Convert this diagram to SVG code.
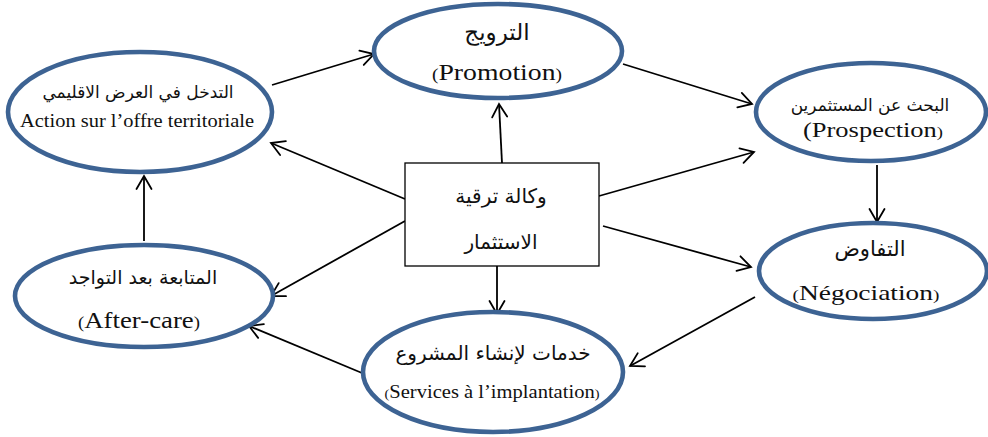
<svg xmlns="http://www.w3.org/2000/svg" width="988" height="437" viewBox="0 0 988 437">
  <defs>
    <marker id="arrow" markerUnits="userSpaceOnUse" markerWidth="18" markerHeight="18" viewBox="0 0 18 18" refX="16" refY="9" orient="auto">
      <path d="M3,1.5 L16,9 L3,16.5" fill="none" stroke="#000" stroke-width="1.8" stroke-linecap="round" stroke-linejoin="miter"/>
    </marker>
    <style>
      .node ellipse { fill: #fff; stroke: #3d6393; stroke-width: 4.6; }
      .box rect { fill: #fff; stroke: #000; stroke-width: 1.3; }
      .ar { font-family: "DejaVu Sans", "Noto Sans", sans-serif; fill: #111; text-anchor: middle; direction: rtl; }
      .la { font-family: "Liberation Serif", "Times New Roman", serif; fill: #111; text-anchor: middle; }
      .p { font-size: 0.7em; }
      #connectors line { stroke: #000; stroke-width: 1.8; fill: none; marker-end: url(#arrow); }
    </style>
  </defs>
  <rect width="988" height="437" fill="#fff"/>

  <!-- connectors -->
  <g id="connectors">
    <line x1="272" y1="85" x2="374" y2="54"/>
    <line x1="623" y1="64" x2="752" y2="104"/>
    <line x1="877" y1="165" x2="877" y2="222"/>
    <line x1="755" y1="297" x2="630" y2="366"/>
    <line x1="362" y1="373" x2="249" y2="326"/>
    <line x1="144" y1="241" x2="144" y2="176"/>
    <line x1="502" y1="163" x2="499" y2="104"/>
    <line x1="405" y1="199" x2="271" y2="143"/>
    <line x1="405" y1="221" x2="271" y2="296"/>
    <line x1="497" y1="266" x2="497" y2="314"/>
    <line x1="599" y1="196" x2="754" y2="152"/>
    <line x1="603" y1="226" x2="751" y2="267"/>
  </g>

  <!-- nodes -->
  <g id="action" class="node">
    <ellipse cx="140" cy="112" rx="132" ry="60"/>
    <text class="ar" x="138" y="98" font-size="17">التدخل في العرض الاقليمي</text>
    <text class="la" x="137" y="127" font-size="19" textLength="234" lengthAdjust="spacingAndGlyphs">Action sur l’offre territoriale</text>
  </g>

  <g id="promotion" class="node">
    <ellipse cx="498" cy="51" rx="124" ry="47"/>
    <text class="ar" x="497" y="40" font-size="23">الترويج</text>
    <text class="la" x="497" y="80" font-size="23" textLength="130" lengthAdjust="spacingAndGlyphs"><tspan class="p">(</tspan>Promotion<tspan class="p">)</tspan></text>
  </g>

  <g id="prospection" class="node">
    <ellipse cx="871" cy="112" rx="115" ry="49"/>
    <text class="ar" x="870" y="111" font-size="17">البحث عن المستثمرين</text>
    <text class="la" x="873" y="137" font-size="22" textLength="140" lengthAdjust="spacingAndGlyphs">(Prospection<tspan class="p">)</tspan></text>
  </g>

  <g id="negociation" class="node">
    <ellipse cx="873" cy="271" rx="114" ry="48"/>
    <text class="ar" x="870" y="256" font-size="21">التفاوض</text>
    <text class="la" x="866" y="300" font-size="22" textLength="147" lengthAdjust="spacingAndGlyphs"><tspan class="p">(</tspan>Négociation<tspan class="p">)</tspan></text>
  </g>

  <g id="aftercare" class="node">
    <ellipse cx="144" cy="296" rx="129" ry="51"/>
    <text class="ar" x="143" y="284" font-size="19">المتابعة بعد التواجد</text>
    <text class="la" x="139" y="328" font-size="23" textLength="122" lengthAdjust="spacingAndGlyphs"><tspan class="p">(</tspan>After-care<tspan class="p">)</tspan></text>
  </g>

  <g id="services" class="node">
    <ellipse cx="493" cy="372" rx="130" ry="60"/>
    <text class="ar" x="493" y="360" font-size="20">خدمات لإنشاء المشروع</text>
    <text class="la" x="492" y="398" font-size="19" textLength="215" lengthAdjust="spacingAndGlyphs"><tspan class="p">(</tspan>Services à l’implantation<tspan class="p">)</tspan></text>
  </g>

  <g id="agence" class="box">
    <rect x="405" y="163" width="194" height="103"/>
    <text class="ar" x="501" y="203" font-size="20">وكالة ترقية</text>
    <text class="ar" x="501" y="249" font-size="20">الاستثمار</text>
  </g>
</svg>
